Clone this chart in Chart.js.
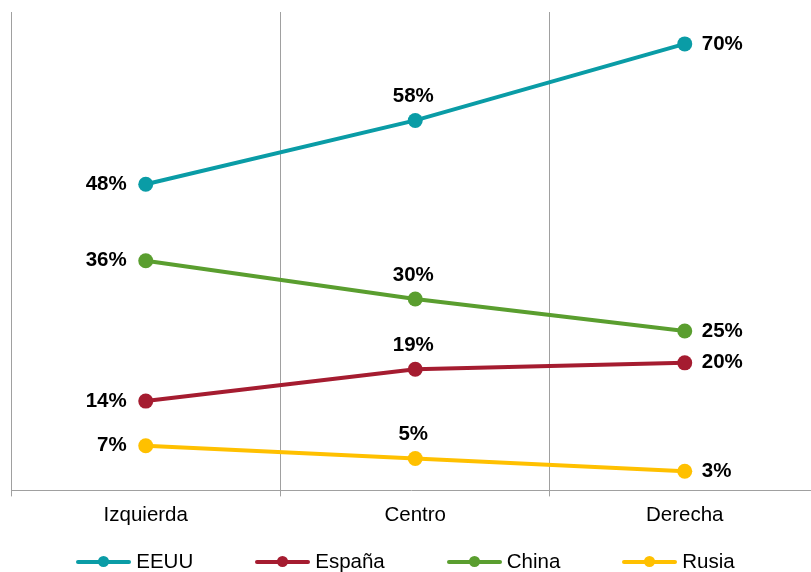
<!DOCTYPE html>
<html>
<head>
<meta charset="utf-8">
<script src="https://cdn.jsdelivr.net/npm/chart.js@4/dist/chart.umd.min.js"></script>
<style>
  html, body { margin: 0; padding: 0; background: #fff; overflow: hidden; }
  #wrap { position: relative; width: 811px; height: 572px; }
  #c { position: absolute; left: 0; top: 0; }
  #legend { position: absolute; left: 0; top: 549px; width: 811px; height: 25px;
    display: flex; justify-content: center; align-items: center;
    font-family: "Liberation Sans", Arial, sans-serif; font-size: 20.5px; color: #000; }
  .item { display: flex; align-items: center; margin: 0 31px; }
  .icon { position: relative; width: 55px; height: 12px; }
  .icon .ln { position: absolute; left: 0; right: 0; top: 4px; height: 4px; border-radius: 2px; }
  .icon .dt { position: absolute; left: 22px; top: 0.5px; width: 11px; height: 11px; border-radius: 50%; }
  .txt { margin-left: 5px; line-height: 1; }
</style>
</head>
<body>
<div id="wrap">
  <canvas id="c" width="811" height="572"></canvas>
  <div id="legend"></div>
</div>
<script>
const categories = ['Izquierda', 'Centro', 'Derecha'];
const seriesNames = ['EEUU', 'España', 'China', 'Rusia'];
const eeuu   = [48, 58, 70];
const espana = [14, 19, 20];
const china  = [36, 30, 25];
const rusia  = [7, 5, 3];
const seriesColors = ['#0A9CA6', '#A51C30', '#5A9E2F', '#FFC000'];

const seriesValues = [eeuu, espana, china, rusia];
const FONT = '"Liberation Sans", Arial, sans-serif';

const datasets = seriesNames.map((name, s) => ({
  label: name,
  data: seriesValues[s].map((v, i) => ({ x: i, y: v })),
  borderColor: seriesColors[s],
  backgroundColor: seriesColors[s],
  pointBackgroundColor: seriesColors[s],
  pointBorderWidth: 0,
  pointRadius: 7.5,
  pointHoverRadius: 7.5,
  borderWidth: 4,
  tension: 0,
  fill: false
}));

const labelPlugin = {
  id: 'valueLabels',
  afterDatasetsDraw(chart) {
    const ctx = chart.ctx;
    ctx.save();
    ctx.font = 'bold 20.5px ' + FONT;
    ctx.fillStyle = '#000';
    ctx.textBaseline = 'middle';
    chart.data.datasets.forEach((ds, di) => {
      const meta = chart.getDatasetMeta(di);
      meta.data.forEach((pt, i) => {
        const txt = ds.data[i].y + '%';
        if (i === 0) {
          ctx.textAlign = 'right';
          ctx.fillText(txt, pt.x - 19, pt.y);
        } else if (i === categories.length - 1) {
          ctx.textAlign = 'left';
          ctx.fillText(txt, pt.x + 17, pt.y);
        } else {
          ctx.textAlign = 'center';
          ctx.fillText(txt, pt.x - 2, pt.y - 24);
        }
      });
    });
    ctx.restore();
  }
};

const XMIN = -0.5, XMAX = 2.4685;

const chart = new Chart(document.getElementById('c'), {
  type: 'line',
  data: { datasets },
  options: {
    responsive: false,
    animation: false,
    events: [],
    layout: { autoPadding: false, padding: { top: 12, left: 11, right: 0, bottom: 37 } },
    plugins: { legend: { display: false }, tooltip: { enabled: false } },
    scales: {
      x: {
        type: 'linear',
        position: 'bottom',
        weight: 0,
        min: XMIN, max: XMAX,
        afterBuildTicks(scale) {
          scale.ticks = categories.map((c, i) => ({ value: i - 0.5 }));
        },
        ticks: { display: false },
        grid: { color: '#a0a0a0', lineWidth: 1, tickLength: 6, drawTicks: true },
        border: { display: true, color: '#a0a0a0', width: 1 }
      },
      xl: {
        type: 'linear',
        position: 'bottom',
        weight: 1,
        min: XMIN, max: XMAX,
        afterBuildTicks(scale) {
          scale.ticks = categories.map((c, i) => ({ value: i }));
        },
        ticks: {
          autoSkip: false, maxRotation: 0, padding: 7,
          color: '#000',
          font: { family: FONT, size: 20.5 },
          callback: (v) => categories[Math.round(v)]
        },
        grid: { display: false, drawTicks: false },
        border: { display: false }
      },
      y: {
        display: false,
        min: 0, max: 75
      }
    }
  },
  plugins: [labelPlugin]
});

const legend = document.getElementById('legend');
chart.data.datasets.forEach(ds => {
  const item = document.createElement('div');
  item.className = 'item';
  const icon = document.createElement('span');
  icon.className = 'icon';
  const ln = document.createElement('span');
  ln.className = 'ln'; ln.style.background = ds.borderColor;
  const dt = document.createElement('span');
  dt.className = 'dt'; dt.style.background = ds.borderColor;
  icon.appendChild(ln); icon.appendChild(dt);
  const txt = document.createElement('span');
  txt.className = 'txt'; txt.textContent = ds.label;
  item.appendChild(icon); item.appendChild(txt);
  legend.appendChild(item);
});
</script>
</body>
</html>
